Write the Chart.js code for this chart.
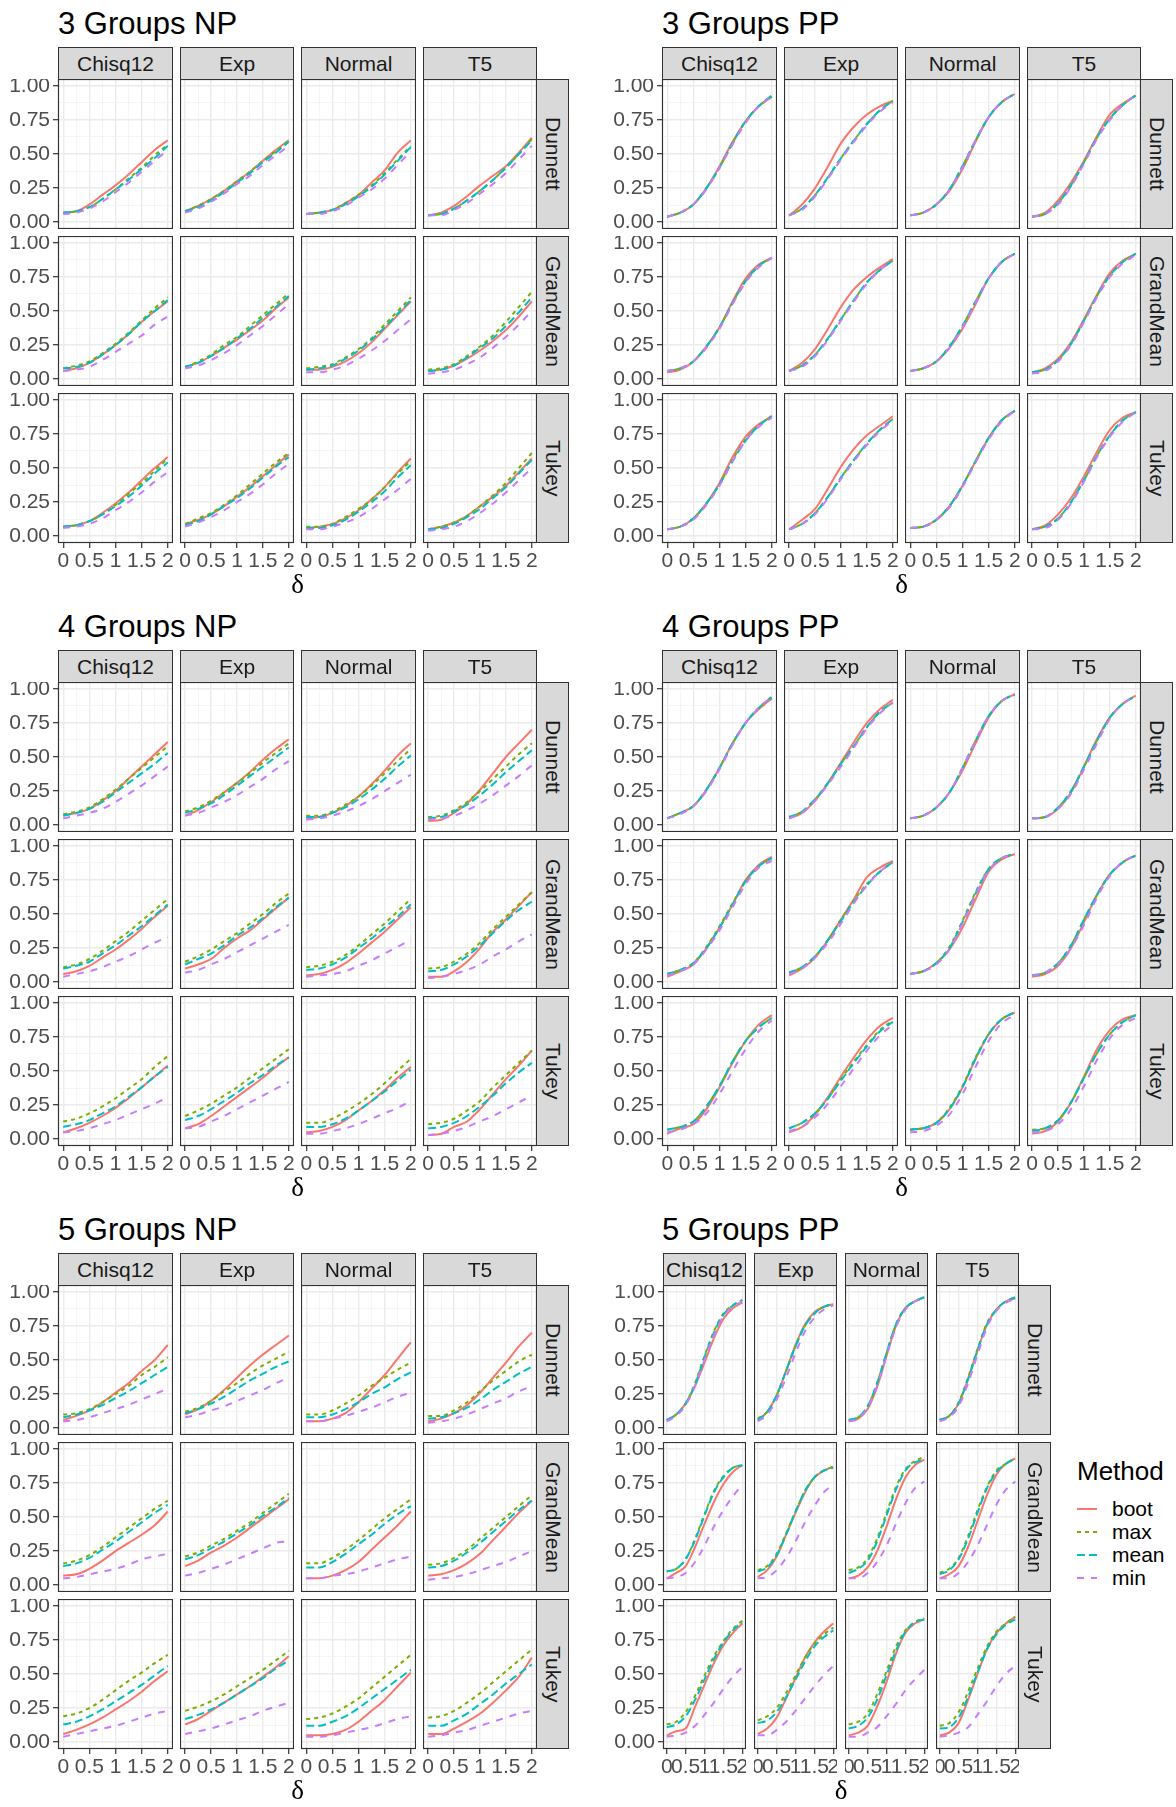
<!DOCTYPE html>
<html>
<head>
<meta charset="utf-8">
<script src="https://cdn.jsdelivr.net/npm/chart.js@4.4.1/dist/chart.umd.min.js"></script>
<style>
body { margin: 0; background: #fff; }
#page { position: relative; width: 1176px; height: 1807px; overflow: hidden; font-family: "Liberation Sans", Arial, sans-serif; background: #fff; }
.title { position: absolute; font-size: 31px; line-height: 31px; color: #000; white-space: nowrap; }
.strip { position: absolute; box-sizing: border-box; background: #D9D9D9; border: 1px solid #333; color: #1A1A1A; font-size: 21px; display: flex; align-items: center; justify-content: center; white-space: nowrap; overflow: hidden; }
.strip.v { writing-mode: vertical-rl; }
.panel { position: absolute; }
.delta { position: absolute; font-family: "Liberation Serif", "DejaVu Serif", serif; font-size: 27px; line-height: 27px; transform: translate(-50%, -50%); }
.legend { position: absolute; left: 1077px; top: 1455px; }
.legend .lt { font-size: 26px; line-height: 32px; color: #000; margin-bottom: 10px; }
.legend .row { display: flex; align-items: center; height: 23px; }
.legend .row span { font-size: 21px; color: #000; margin-left: 15px; }
</style>
</head>
<body>
<div id="page"></div>
<script>
// Rejection rates against shift size delta
const deltas = [0, 0.25, 0.5, 0.75, 1, 1.25, 1.5, 1.75, 2];
const methods = ['boot', 'max', 'mean', 'min'];
const distributions = ['Chisq12', 'Exp', 'Normal', 'T5'];
const procedures = ['Dunnett', 'GrandMean', 'Tukey'];
const yTicks = [0, 0.125, 0.25, 0.375, 0.5, 0.625, 0.75, 0.875, 1];
const xTicks = [0, 0.25, 0.5, 0.75, 1, 1.25, 1.5, 1.75, 2];

// each block: 12 panels (Dunnett, GrandMean, Tukey) x (Chisq12, Exp, Normal, T5), each [boot, max, mean, min]
const np3 = [
  [[0.07,0.08,0.13,0.20,0.27,0.35,0.44,0.53,0.60],[0.07,0.08,0.11,0.17,0.24,0.32,0.40,0.49,0.57],[0.07,0.08,0.11,0.17,0.24,0.31,0.39,0.47,0.56],[0.06,0.07,0.10,0.15,0.22,0.29,0.37,0.45,0.53]],
  [[0.08,0.12,0.17,0.23,0.30,0.37,0.45,0.53,0.60],[0.08,0.12,0.17,0.23,0.30,0.37,0.45,0.52,0.60],[0.08,0.11,0.16,0.22,0.29,0.36,0.44,0.51,0.59],[0.07,0.10,0.15,0.21,0.28,0.34,0.42,0.49,0.56]],
  [[0.06,0.07,0.09,0.14,0.20,0.29,0.38,0.51,0.60],[0.06,0.07,0.09,0.14,0.20,0.27,0.36,0.46,0.56],[0.06,0.07,0.09,0.13,0.19,0.26,0.35,0.45,0.55],[0.06,0.06,0.08,0.12,0.18,0.24,0.32,0.42,0.52]],
  [[0.05,0.07,0.12,0.19,0.27,0.34,0.41,0.51,0.62],[0.05,0.06,0.10,0.16,0.23,0.31,0.40,0.50,0.61],[0.05,0.06,0.10,0.16,0.23,0.31,0.40,0.50,0.60],[0.05,0.05,0.09,0.14,0.21,0.28,0.36,0.46,0.56]],
  [[0.06,0.08,0.12,0.18,0.25,0.33,0.42,0.50,0.57],[0.08,0.10,0.13,0.19,0.26,0.34,0.43,0.52,0.60],[0.08,0.09,0.12,0.18,0.25,0.33,0.42,0.50,0.58],[0.06,0.07,0.09,0.14,0.20,0.26,0.32,0.40,0.46]],
  [[0.09,0.12,0.17,0.23,0.29,0.36,0.43,0.52,0.60],[0.09,0.13,0.18,0.25,0.31,0.39,0.47,0.55,0.63],[0.09,0.12,0.17,0.23,0.30,0.37,0.45,0.53,0.61],[0.08,0.10,0.14,0.19,0.25,0.32,0.39,0.47,0.55]],
  [[0.07,0.07,0.09,0.13,0.19,0.27,0.37,0.47,0.57],[0.08,0.09,0.11,0.16,0.22,0.30,0.40,0.50,0.60],[0.07,0.08,0.10,0.15,0.21,0.29,0.38,0.48,0.58],[0.05,0.05,0.07,0.10,0.15,0.21,0.28,0.36,0.44]],
  [[0.06,0.07,0.10,0.15,0.21,0.28,0.36,0.46,0.57],[0.07,0.08,0.11,0.17,0.24,0.32,0.42,0.53,0.64],[0.06,0.07,0.10,0.16,0.23,0.30,0.39,0.49,0.60],[0.04,0.05,0.07,0.11,0.16,0.23,0.31,0.40,0.50]],
  [[0.07,0.08,0.11,0.17,0.24,0.32,0.41,0.50,0.58],[0.07,0.08,0.11,0.16,0.23,0.31,0.39,0.48,0.57],[0.07,0.08,0.11,0.16,0.22,0.29,0.37,0.46,0.54],[0.06,0.07,0.09,0.13,0.19,0.25,0.32,0.40,0.47]],
  [[0.09,0.12,0.16,0.22,0.29,0.36,0.44,0.52,0.60],[0.09,0.13,0.17,0.23,0.30,0.38,0.46,0.54,0.61],[0.08,0.11,0.16,0.22,0.28,0.35,0.43,0.51,0.58],[0.07,0.10,0.14,0.19,0.25,0.31,0.38,0.46,0.53]],
  [[0.06,0.07,0.09,0.13,0.19,0.27,0.36,0.47,0.57],[0.07,0.07,0.09,0.14,0.20,0.27,0.36,0.46,0.55],[0.06,0.06,0.08,0.12,0.18,0.25,0.33,0.43,0.52],[0.05,0.05,0.07,0.10,0.14,0.20,0.27,0.34,0.42]],
  [[0.05,0.07,0.10,0.15,0.22,0.29,0.37,0.47,0.57],[0.05,0.07,0.10,0.15,0.22,0.30,0.39,0.50,0.61],[0.05,0.06,0.09,0.14,0.20,0.28,0.36,0.46,0.56],[0.04,0.05,0.07,0.11,0.17,0.24,0.32,0.41,0.50]]
];
const pp3 = [
  [[0.04,0.07,0.13,0.25,0.41,0.59,0.74,0.85,0.92],[0.04,0.07,0.13,0.25,0.40,0.58,0.74,0.85,0.92],[0.04,0.07,0.13,0.25,0.40,0.58,0.74,0.85,0.93],[0.04,0.07,0.13,0.24,0.40,0.57,0.73,0.85,0.92]],
  [[0.05,0.13,0.25,0.41,0.58,0.70,0.79,0.85,0.89],[0.05,0.10,0.20,0.33,0.47,0.60,0.72,0.82,0.89],[0.05,0.10,0.20,0.33,0.47,0.60,0.72,0.82,0.89],[0.05,0.09,0.19,0.32,0.46,0.59,0.71,0.81,0.88]],
  [[0.05,0.07,0.13,0.23,0.39,0.59,0.77,0.88,0.94],[0.05,0.07,0.13,0.24,0.41,0.60,0.77,0.88,0.94],[0.05,0.07,0.13,0.24,0.41,0.60,0.77,0.88,0.94],[0.05,0.07,0.13,0.24,0.40,0.60,0.77,0.88,0.94]],
  [[0.04,0.07,0.16,0.29,0.45,0.63,0.79,0.87,0.93],[0.04,0.06,0.14,0.27,0.44,0.62,0.76,0.86,0.93],[0.04,0.06,0.14,0.27,0.44,0.62,0.76,0.86,0.93],[0.04,0.06,0.13,0.26,0.43,0.61,0.75,0.86,0.93]],
  [[0.05,0.07,0.13,0.24,0.38,0.57,0.74,0.84,0.89],[0.06,0.08,0.13,0.24,0.38,0.56,0.72,0.83,0.89],[0.06,0.08,0.13,0.24,0.38,0.56,0.72,0.83,0.89],[0.06,0.08,0.13,0.23,0.37,0.55,0.71,0.82,0.89]],
  [[0.06,0.12,0.22,0.37,0.53,0.66,0.75,0.82,0.88],[0.06,0.10,0.18,0.30,0.44,0.58,0.71,0.80,0.87],[0.06,0.10,0.18,0.30,0.44,0.58,0.71,0.80,0.87],[0.06,0.09,0.17,0.29,0.43,0.57,0.70,0.80,0.87]],
  [[0.06,0.08,0.13,0.23,0.37,0.55,0.74,0.86,0.92],[0.06,0.08,0.13,0.24,0.39,0.57,0.74,0.86,0.92],[0.06,0.08,0.13,0.24,0.39,0.57,0.74,0.86,0.92],[0.06,0.08,0.13,0.23,0.38,0.56,0.74,0.86,0.92]],
  [[0.05,0.08,0.15,0.27,0.44,0.62,0.78,0.87,0.92],[0.05,0.07,0.14,0.26,0.43,0.61,0.76,0.86,0.92],[0.05,0.07,0.14,0.26,0.43,0.61,0.76,0.86,0.92],[0.04,0.06,0.13,0.25,0.42,0.60,0.75,0.85,0.91]],
  [[0.05,0.07,0.13,0.24,0.39,0.58,0.73,0.82,0.88],[0.05,0.07,0.13,0.24,0.38,0.56,0.71,0.81,0.88],[0.05,0.07,0.13,0.24,0.38,0.55,0.70,0.81,0.88],[0.05,0.07,0.12,0.23,0.37,0.55,0.70,0.80,0.87]],
  [[0.05,0.12,0.20,0.35,0.51,0.64,0.74,0.81,0.88],[0.05,0.09,0.17,0.29,0.43,0.56,0.68,0.78,0.86],[0.05,0.09,0.17,0.29,0.43,0.56,0.68,0.78,0.86],[0.05,0.09,0.16,0.28,0.42,0.55,0.67,0.77,0.85]],
  [[0.06,0.07,0.12,0.22,0.37,0.55,0.72,0.85,0.92],[0.06,0.07,0.12,0.22,0.37,0.55,0.72,0.85,0.92],[0.06,0.07,0.12,0.22,0.37,0.55,0.72,0.85,0.92],[0.06,0.07,0.12,0.21,0.36,0.54,0.71,0.84,0.92]],
  [[0.05,0.08,0.16,0.28,0.44,0.62,0.78,0.87,0.91],[0.05,0.07,0.13,0.25,0.41,0.59,0.74,0.85,0.91],[0.05,0.07,0.13,0.25,0.41,0.59,0.74,0.85,0.91],[0.05,0.06,0.12,0.24,0.40,0.58,0.73,0.84,0.91]]
];
const np4 = [
  [[0.07,0.09,0.12,0.18,0.25,0.34,0.43,0.52,0.61],[0.08,0.10,0.13,0.19,0.26,0.34,0.42,0.50,0.58],[0.07,0.09,0.12,0.17,0.24,0.31,0.38,0.45,0.53],[0.05,0.07,0.09,0.12,0.17,0.23,0.29,0.36,0.43]],
  [[0.07,0.11,0.17,0.24,0.31,0.39,0.48,0.56,0.63],[0.10,0.13,0.18,0.24,0.31,0.38,0.46,0.53,0.60],[0.09,0.12,0.16,0.22,0.29,0.36,0.43,0.50,0.57],[0.07,0.09,0.13,0.17,0.22,0.28,0.34,0.41,0.47]],
  [[0.05,0.06,0.09,0.14,0.21,0.30,0.40,0.51,0.60],[0.07,0.07,0.10,0.15,0.21,0.29,0.38,0.47,0.56],[0.06,0.06,0.09,0.13,0.19,0.26,0.34,0.43,0.51],[0.04,0.05,0.07,0.10,0.14,0.19,0.25,0.31,0.37]],
  [[0.03,0.04,0.09,0.16,0.26,0.38,0.50,0.60,0.70],[0.06,0.07,0.11,0.17,0.25,0.34,0.43,0.52,0.60],[0.05,0.06,0.10,0.15,0.22,0.30,0.39,0.47,0.55],[0.04,0.05,0.07,0.11,0.16,0.22,0.29,0.36,0.44]],
  [[0.06,0.08,0.12,0.18,0.24,0.31,0.39,0.48,0.56],[0.11,0.13,0.17,0.23,0.30,0.37,0.45,0.53,0.61],[0.10,0.12,0.15,0.21,0.27,0.34,0.41,0.49,0.57],[0.04,0.06,0.08,0.11,0.15,0.19,0.24,0.29,0.33]],
  [[0.10,0.13,0.17,0.25,0.32,0.38,0.46,0.54,0.62],[0.15,0.19,0.24,0.30,0.36,0.43,0.50,0.58,0.65],[0.13,0.17,0.21,0.27,0.34,0.40,0.47,0.55,0.62],[0.07,0.09,0.13,0.17,0.22,0.27,0.32,0.37,0.42]],
  [[0.05,0.06,0.09,0.14,0.21,0.29,0.37,0.46,0.55],[0.11,0.12,0.15,0.20,0.27,0.35,0.43,0.52,0.61],[0.09,0.10,0.13,0.18,0.25,0.32,0.40,0.48,0.57],[0.04,0.05,0.06,0.08,0.12,0.16,0.21,0.26,0.31]],
  [[0.04,0.04,0.08,0.15,0.25,0.37,0.46,0.56,0.66],[0.10,0.11,0.15,0.21,0.29,0.39,0.48,0.57,0.66],[0.08,0.09,0.13,0.19,0.27,0.36,0.45,0.53,0.59],[0.03,0.04,0.06,0.09,0.13,0.19,0.24,0.30,0.35]],
  [[0.05,0.08,0.12,0.17,0.23,0.30,0.38,0.46,0.54],[0.13,0.15,0.19,0.24,0.30,0.37,0.44,0.53,0.61],[0.09,0.11,0.14,0.19,0.24,0.31,0.38,0.46,0.53],[0.05,0.06,0.08,0.11,0.14,0.18,0.22,0.26,0.31]],
  [[0.08,0.11,0.17,0.24,0.31,0.38,0.45,0.53,0.60],[0.17,0.21,0.26,0.32,0.38,0.45,0.52,0.59,0.66],[0.14,0.17,0.22,0.28,0.34,0.41,0.47,0.54,0.60],[0.08,0.09,0.13,0.17,0.22,0.27,0.32,0.37,0.42]],
  [[0.05,0.06,0.09,0.14,0.21,0.28,0.36,0.45,0.53],[0.12,0.12,0.15,0.20,0.26,0.33,0.41,0.50,0.59],[0.09,0.09,0.11,0.15,0.21,0.28,0.35,0.43,0.51],[0.04,0.04,0.06,0.08,0.11,0.15,0.19,0.23,0.28]],
  [[0.03,0.04,0.09,0.13,0.22,0.33,0.44,0.54,0.65],[0.11,0.12,0.15,0.21,0.28,0.38,0.47,0.56,0.65],[0.08,0.09,0.12,0.17,0.24,0.32,0.41,0.49,0.56],[0.03,0.04,0.06,0.09,0.13,0.17,0.22,0.27,0.32]]
];
const pp4 = [
  [[0.05,0.09,0.14,0.26,0.42,0.60,0.75,0.85,0.93],[0.05,0.09,0.14,0.26,0.42,0.60,0.75,0.86,0.94],[0.05,0.09,0.14,0.26,0.42,0.60,0.75,0.86,0.94],[0.05,0.08,0.14,0.25,0.41,0.59,0.75,0.86,0.94]],
  [[0.05,0.09,0.18,0.31,0.46,0.61,0.75,0.85,0.92],[0.06,0.10,0.19,0.31,0.45,0.58,0.72,0.83,0.90],[0.06,0.10,0.19,0.31,0.45,0.58,0.72,0.83,0.90],[0.05,0.09,0.18,0.30,0.43,0.57,0.71,0.82,0.90]],
  [[0.05,0.07,0.13,0.24,0.40,0.60,0.79,0.91,0.96],[0.05,0.07,0.13,0.24,0.42,0.62,0.80,0.91,0.96],[0.05,0.07,0.13,0.24,0.42,0.62,0.80,0.91,0.96],[0.05,0.07,0.13,0.24,0.42,0.62,0.80,0.91,0.96]],
  [[0.05,0.06,0.12,0.24,0.43,0.63,0.79,0.89,0.95],[0.05,0.06,0.13,0.25,0.43,0.62,0.79,0.89,0.95],[0.05,0.06,0.13,0.25,0.43,0.62,0.79,0.89,0.95],[0.05,0.06,0.12,0.23,0.41,0.60,0.78,0.89,0.95]],
  [[0.04,0.08,0.13,0.25,0.40,0.57,0.75,0.86,0.92],[0.06,0.09,0.14,0.26,0.41,0.58,0.74,0.85,0.91],[0.06,0.09,0.14,0.25,0.40,0.57,0.74,0.85,0.91],[0.05,0.08,0.13,0.24,0.38,0.55,0.72,0.84,0.89]],
  [[0.05,0.10,0.18,0.31,0.46,0.61,0.77,0.84,0.89],[0.07,0.11,0.19,0.31,0.46,0.60,0.72,0.81,0.88],[0.07,0.11,0.19,0.31,0.45,0.59,0.71,0.81,0.88],[0.06,0.10,0.18,0.29,0.43,0.58,0.71,0.81,0.88]],
  [[0.06,0.08,0.14,0.24,0.40,0.61,0.81,0.90,0.94],[0.06,0.08,0.14,0.26,0.45,0.66,0.83,0.91,0.94],[0.06,0.08,0.14,0.25,0.44,0.65,0.83,0.91,0.94],[0.06,0.08,0.13,0.24,0.43,0.64,0.82,0.91,0.94]],
  [[0.04,0.06,0.12,0.25,0.44,0.64,0.79,0.88,0.93],[0.05,0.07,0.14,0.27,0.46,0.64,0.79,0.88,0.93],[0.05,0.07,0.14,0.27,0.46,0.64,0.79,0.88,0.93],[0.05,0.07,0.13,0.25,0.42,0.62,0.78,0.88,0.93]],
  [[0.04,0.08,0.11,0.22,0.38,0.56,0.72,0.84,0.91],[0.07,0.09,0.13,0.24,0.39,0.57,0.72,0.82,0.89],[0.07,0.09,0.13,0.24,0.39,0.57,0.72,0.82,0.89],[0.05,0.07,0.11,0.19,0.33,0.50,0.66,0.79,0.87]],
  [[0.05,0.09,0.18,0.31,0.46,0.60,0.73,0.83,0.89],[0.08,0.12,0.19,0.30,0.44,0.57,0.69,0.80,0.87],[0.08,0.12,0.19,0.30,0.43,0.56,0.68,0.79,0.86],[0.06,0.09,0.16,0.26,0.39,0.52,0.65,0.76,0.84]],
  [[0.07,0.08,0.12,0.22,0.38,0.59,0.77,0.88,0.93],[0.07,0.08,0.12,0.23,0.39,0.60,0.77,0.88,0.93],[0.07,0.08,0.12,0.22,0.38,0.59,0.77,0.88,0.93],[0.05,0.06,0.10,0.18,0.33,0.53,0.72,0.85,0.91]],
  [[0.04,0.06,0.13,0.27,0.46,0.66,0.80,0.88,0.91],[0.07,0.08,0.14,0.27,0.45,0.63,0.77,0.86,0.91],[0.06,0.08,0.14,0.27,0.45,0.63,0.77,0.86,0.91],[0.05,0.06,0.11,0.22,0.39,0.58,0.74,0.84,0.89]]
];
const np5 = [
  [[0.06,0.09,0.13,0.19,0.26,0.33,0.42,0.50,0.61],[0.10,0.11,0.14,0.19,0.25,0.31,0.39,0.45,0.52],[0.08,0.10,0.13,0.17,0.22,0.27,0.33,0.39,0.45],[0.05,0.06,0.08,0.11,0.14,0.17,0.21,0.25,0.29]],
  [[0.10,0.14,0.20,0.28,0.37,0.46,0.54,0.61,0.68],[0.12,0.15,0.20,0.27,0.33,0.40,0.46,0.51,0.56],[0.11,0.14,0.18,0.23,0.29,0.35,0.40,0.45,0.49],[0.08,0.10,0.13,0.16,0.20,0.24,0.28,0.33,0.37]],
  [[0.05,0.05,0.07,0.11,0.19,0.29,0.39,0.51,0.63],[0.10,0.10,0.13,0.18,0.24,0.31,0.37,0.43,0.48],[0.08,0.08,0.10,0.14,0.19,0.25,0.30,0.36,0.41],[0.05,0.05,0.07,0.09,0.12,0.15,0.19,0.23,0.26]],
  [[0.05,0.07,0.11,0.17,0.26,0.37,0.48,0.60,0.70],[0.09,0.09,0.13,0.19,0.27,0.35,0.42,0.49,0.54],[0.07,0.08,0.11,0.15,0.21,0.28,0.34,0.40,0.45],[0.04,0.05,0.07,0.10,0.14,0.18,0.22,0.27,0.31]],
  [[0.07,0.08,0.12,0.18,0.25,0.31,0.37,0.44,0.54],[0.16,0.18,0.22,0.28,0.35,0.42,0.49,0.56,0.62],[0.14,0.16,0.20,0.26,0.32,0.39,0.46,0.53,0.59],[0.05,0.06,0.08,0.10,0.12,0.15,0.19,0.21,0.23]],
  [[0.14,0.18,0.24,0.29,0.35,0.42,0.49,0.56,0.63],[0.21,0.24,0.29,0.34,0.40,0.46,0.53,0.60,0.67],[0.19,0.22,0.27,0.32,0.38,0.44,0.51,0.57,0.64],[0.07,0.09,0.12,0.15,0.19,0.23,0.27,0.31,0.32]],
  [[0.05,0.05,0.07,0.11,0.17,0.26,0.35,0.44,0.54],[0.16,0.16,0.20,0.26,0.33,0.41,0.49,0.56,0.63],[0.13,0.13,0.17,0.23,0.30,0.37,0.45,0.52,0.58],[0.05,0.05,0.07,0.08,0.10,0.13,0.16,0.19,0.21]],
  [[0.07,0.08,0.11,0.16,0.23,0.33,0.43,0.53,0.62],[0.15,0.16,0.20,0.26,0.34,0.42,0.50,0.58,0.66],[0.13,0.14,0.18,0.24,0.31,0.39,0.47,0.55,0.62],[0.04,0.05,0.06,0.08,0.11,0.14,0.17,0.21,0.25]],
  [[0.06,0.09,0.13,0.18,0.24,0.30,0.37,0.45,0.52],[0.19,0.21,0.25,0.31,0.38,0.45,0.51,0.58,0.64],[0.13,0.15,0.19,0.24,0.30,0.36,0.42,0.49,0.56],[0.04,0.06,0.08,0.10,0.12,0.15,0.18,0.21,0.23]],
  [[0.13,0.17,0.23,0.29,0.35,0.41,0.48,0.55,0.63],[0.23,0.26,0.30,0.35,0.41,0.47,0.53,0.60,0.67],[0.17,0.20,0.24,0.29,0.35,0.41,0.47,0.54,0.60],[0.06,0.08,0.10,0.13,0.16,0.19,0.23,0.26,0.29]],
  [[0.05,0.05,0.06,0.09,0.15,0.23,0.31,0.41,0.51],[0.17,0.18,0.21,0.26,0.32,0.40,0.48,0.56,0.64],[0.12,0.12,0.15,0.19,0.25,0.32,0.39,0.46,0.53],[0.04,0.04,0.05,0.07,0.09,0.11,0.14,0.17,0.19]],
  [[0.06,0.06,0.10,0.15,0.21,0.29,0.38,0.48,0.62],[0.18,0.19,0.23,0.29,0.36,0.44,0.52,0.60,0.68],[0.12,0.12,0.16,0.21,0.28,0.35,0.43,0.50,0.57],[0.04,0.05,0.07,0.09,0.12,0.15,0.18,0.21,0.23]]
];
const pp5 = [
  [[0.06,0.10,0.18,0.31,0.48,0.66,0.80,0.88,0.92],[0.06,0.10,0.18,0.33,0.53,0.71,0.84,0.90,0.94],[0.06,0.10,0.18,0.32,0.52,0.70,0.83,0.90,0.94],[0.05,0.09,0.17,0.31,0.50,0.68,0.82,0.89,0.93]],
  [[0.06,0.12,0.24,0.42,0.61,0.76,0.85,0.89,0.91],[0.07,0.12,0.24,0.42,0.60,0.75,0.84,0.89,0.91],[0.06,0.12,0.24,0.42,0.60,0.75,0.84,0.89,0.91],[0.05,0.10,0.21,0.37,0.55,0.71,0.81,0.87,0.90]],
  [[0.05,0.07,0.14,0.30,0.53,0.75,0.88,0.93,0.96],[0.06,0.08,0.16,0.33,0.55,0.76,0.88,0.93,0.96],[0.06,0.08,0.16,0.33,0.55,0.76,0.88,0.93,0.96],[0.05,0.07,0.15,0.31,0.53,0.74,0.87,0.93,0.95]],
  [[0.06,0.09,0.18,0.36,0.57,0.76,0.87,0.93,0.95],[0.06,0.09,0.19,0.37,0.58,0.77,0.87,0.93,0.96],[0.06,0.09,0.18,0.36,0.57,0.76,0.87,0.93,0.96],[0.05,0.08,0.16,0.33,0.54,0.74,0.86,0.92,0.95]],
  [[0.05,0.09,0.14,0.28,0.45,0.61,0.74,0.83,0.88],[0.10,0.12,0.19,0.34,0.52,0.69,0.80,0.86,0.88],[0.10,0.12,0.19,0.33,0.51,0.68,0.79,0.86,0.88],[0.05,0.06,0.09,0.17,0.29,0.43,0.55,0.65,0.74]],
  [[0.06,0.11,0.21,0.37,0.53,0.68,0.79,0.84,0.87],[0.11,0.14,0.23,0.38,0.54,0.69,0.79,0.84,0.87],[0.10,0.13,0.22,0.37,0.54,0.69,0.79,0.84,0.86],[0.05,0.06,0.11,0.20,0.32,0.46,0.58,0.68,0.74]],
  [[0.05,0.07,0.13,0.25,0.43,0.63,0.79,0.88,0.92],[0.11,0.13,0.20,0.34,0.53,0.72,0.85,0.91,0.94],[0.09,0.12,0.18,0.32,0.51,0.70,0.84,0.90,0.92],[0.05,0.05,0.09,0.17,0.29,0.45,0.60,0.71,0.76]],
  [[0.05,0.08,0.14,0.28,0.47,0.66,0.81,0.89,0.93],[0.09,0.12,0.20,0.36,0.55,0.72,0.84,0.89,0.93],[0.08,0.11,0.19,0.34,0.53,0.71,0.83,0.89,0.93],[0.05,0.05,0.09,0.17,0.29,0.44,0.59,0.70,0.76]],
  [[0.05,0.08,0.10,0.26,0.42,0.58,0.71,0.80,0.87],[0.13,0.15,0.22,0.34,0.49,0.63,0.74,0.83,0.89],[0.11,0.13,0.19,0.31,0.46,0.61,0.73,0.82,0.88],[0.04,0.05,0.07,0.12,0.20,0.29,0.39,0.48,0.55]],
  [[0.06,0.10,0.18,0.32,0.47,0.62,0.73,0.81,0.87],[0.16,0.19,0.25,0.36,0.49,0.62,0.72,0.79,0.84],[0.14,0.16,0.22,0.33,0.46,0.59,0.70,0.77,0.82],[0.05,0.05,0.09,0.15,0.23,0.32,0.41,0.49,0.56]],
  [[0.05,0.07,0.12,0.26,0.44,0.65,0.80,0.87,0.90],[0.13,0.15,0.21,0.35,0.52,0.70,0.82,0.88,0.91],[0.10,0.12,0.18,0.31,0.49,0.67,0.81,0.88,0.90],[0.04,0.04,0.07,0.11,0.19,0.28,0.38,0.46,0.53]],
  [[0.05,0.07,0.14,0.31,0.50,0.68,0.80,0.87,0.92],[0.12,0.14,0.22,0.37,0.54,0.70,0.81,0.87,0.92],[0.10,0.11,0.18,0.33,0.51,0.68,0.79,0.86,0.90],[0.04,0.05,0.07,0.11,0.20,0.30,0.41,0.50,0.56]]
];

// styles (ggplot defaults)
const methodColors = ['#F8766D', '#7CAE00', '#00BFC4', '#C77CFF'];
const methodDashes = [[], [4, 4], [8, 4], [7, 7]];
const FONT = '"Liberation Sans", Arial, sans-serif';

const blocks = [
  { title: '3 Groups NP', data: np3, x: 0, y: 0, narrow: false },
  { title: '3 Groups PP', data: pp3, x: 604, y: 0, narrow: false },
  { title: '4 Groups NP', data: np4, x: 0, y: 603, narrow: false },
  { title: '4 Groups PP', data: pp4, x: 604, y: 603, narrow: false },
  { title: '5 Groups NP', data: np5, x: 0, y: 1206, narrow: false },
  { title: '5 Groups PP', data: pp5, x: 604, y: 1206, narrow: true }
];

const AXIS_W = 58;
const AXIS_H = 34;
const page = document.getElementById('page');

const isMajorY = v => Math.abs(v * 4 - Math.round(v * 4)) < 1e-6;
const isMajorX = v => Math.abs(v * 2 - Math.round(v * 2)) < 1e-6;

const panelBorder = {
    id: 'panelBorder',
    afterDraw(chart) {
        const a = chart.chartArea;
        const ctx = chart.ctx;
        ctx.save();
        ctx.strokeStyle = '#333333';
        ctx.lineWidth = 1.2;
        ctx.strokeRect(a.left + 0.5, a.top + 0.5, a.right - a.left - 1, a.bottom - a.top - 1);
        ctx.restore();
    }
};

function addDiv(cls, text, left, top, width, height) {
    const d = document.createElement('div');
    d.className = cls;
    d.textContent = text;
    d.style.left = left + 'px';
    d.style.top = top + 'px';
    if (width != null) d.style.width = width + 'px';
    if (height != null) d.style.height = height + 'px';
    page.appendChild(d);
    return d;
}

function panelBox(block, r, c) {
    const w = block.narrow ? 83 : 114.5;
    const step = block.narrow ? 91 : 121.5;
    const x0 = Math.round(block.x + (block.narrow ? 59 : 58) + c * step);
    const x1 = Math.round(block.x + (block.narrow ? 59 : 58) + c * step + w);
    const y0 = block.y + 79 + r * 157;
    return { x: x0, y: y0, w: x1 - x0, h: 150 };
}

function makePanel(block, r, c) {
    const box = panelBox(block, r, c);
    const showY = c === 0;
    const showX = r === 2;
    const left = box.x - (showY ? AXIS_W : 0);
    const width = box.w + (showY ? AXIS_W : 0);
    const height = box.h + (showX ? AXIS_H : 0);

    const canvas = document.createElement('canvas');
    canvas.className = 'panel';
    canvas.width = width;
    canvas.height = height;
    canvas.style.left = left + 'px';
    canvas.style.top = box.y + 'px';
    canvas.style.width = width + 'px';
    canvas.style.height = height + 'px';
    page.appendChild(canvas);

    const series = block.data[r * 4 + c];
    const datasets = methods.map((m, i) => ({
        label: m,
        data: deltas.map((d, k) => ({ x: d, y: series[i][k] })),
        borderColor: methodColors[i],
        borderDash: methodDashes[i],
        borderWidth: 2,
        pointRadius: 0,
        fill: false,
        cubicInterpolationMode: 'monotone',
        order: 3 - i
    }));

    const zeroPad = s => { s.paddingTop = 0; s.paddingBottom = 0; s.paddingLeft = 0; s.paddingRight = 0; };

    new Chart(canvas, {
        type: 'line',
        data: { datasets },
        options: {
            responsive: false,
            animation: false,
            layout: { padding: 0 },
            plugins: { legend: { display: false }, tooltip: { enabled: false } },
            scales: {
                x: {
                    type: 'linear', min: -0.1, max: 2.1,
                    afterBuildTicks: s => { s.ticks = xTicks.map(v => ({ value: v })); },
                    afterFit: s => { s.height = showX ? AXIS_H : 0; zeroPad(s); },
                    border: { display: false },
                    grid: {
                        color: ctx => (ctx.tick && isMajorX(ctx.tick.value)) ? '#EBEBEB' : '#F3F3F3',
                        lineWidth: ctx => (ctx.tick && isMajorX(ctx.tick.value)) ? 1.4 : 0.8,
                        drawTicks: showX,
                        tickLength: 5,
                        tickWidth: 1.2,
                        tickColor: ctx => (ctx.tick && isMajorX(ctx.tick.value)) ? '#333333' : 'rgba(0,0,0,0)'
                    },
                    ticks: {
                        display: showX, autoSkip: false, maxRotation: 0, minRotation: 0, padding: 1,
                        color: '#4D4D4D', font: { family: FONT, size: 21 },
                        callback: v => isMajorX(v) ? String(v) : ''
                    }
                },
                y: {
                    type: 'linear', min: -0.05, max: 1.05,
                    afterBuildTicks: s => { s.ticks = yTicks.map(v => ({ value: v })); },
                    afterFit: s => { s.width = showY ? AXIS_W : 0; zeroPad(s); },
                    border: { display: false },
                    grid: {
                        color: ctx => (ctx.tick && isMajorY(ctx.tick.value)) ? '#EBEBEB' : '#F3F3F3',
                        lineWidth: ctx => (ctx.tick && isMajorY(ctx.tick.value)) ? 1.4 : 0.8,
                        drawTicks: showY,
                        tickLength: 5,
                        tickWidth: 1.2,
                        tickColor: ctx => (ctx.tick && isMajorY(ctx.tick.value)) ? '#333333' : 'rgba(0,0,0,0)'
                    },
                    ticks: {
                        display: showY, autoSkip: false, padding: 3,
                        color: '#4D4D4D', font: { family: FONT, size: 21 },
                        callback: v => isMajorY(v) ? v.toFixed(2) : ''
                    }
                }
            }
        },
        plugins: [panelBorder]
    });
}

blocks.forEach(block => {
    addDiv('title', block.title, block.x + 58, block.y + 8);

    // column strips
    distributions.forEach((name, c) => {
        const b = panelBox(block, 0, c);
        addDiv('strip', name, b.x, block.y + 47, b.w, 33);
    });
    // row strips
    procedures.forEach((name, r) => {
        const b = panelBox(block, r, 3);
        addDiv('strip v', name, b.x + b.w - 1, b.y, 33, b.h);
    });

    for (let r = 0; r < procedures.length; r++) {
        for (let c = 0; c < distributions.length; c++) {
            makePanel(block, r, c);
        }
    }

    const first = panelBox(block, 0, 0);
    const last = panelBox(block, 0, 3);
    addDiv('delta', 'δ', (first.x + last.x + last.w) / 2, block.y + 584);
});

// legend
const legend = document.createElement('div');
legend.className = 'legend';
let html = '<div class="lt">Method</div>';
methods.forEach((m, i) => {
    const dash = methodDashes[i].length ? ` stroke-dasharray="${methodDashes[i].join(' ')}"` : '';
    html += `<div class="row"><svg width="20" height="12"><line x1="0" y1="6" x2="20" y2="6" stroke="${methodColors[i]}" stroke-width="2"${dash}/></svg><span>${m}</span></div>`;
});
legend.innerHTML = html;
page.appendChild(legend);
</script>
</body>
</html>
